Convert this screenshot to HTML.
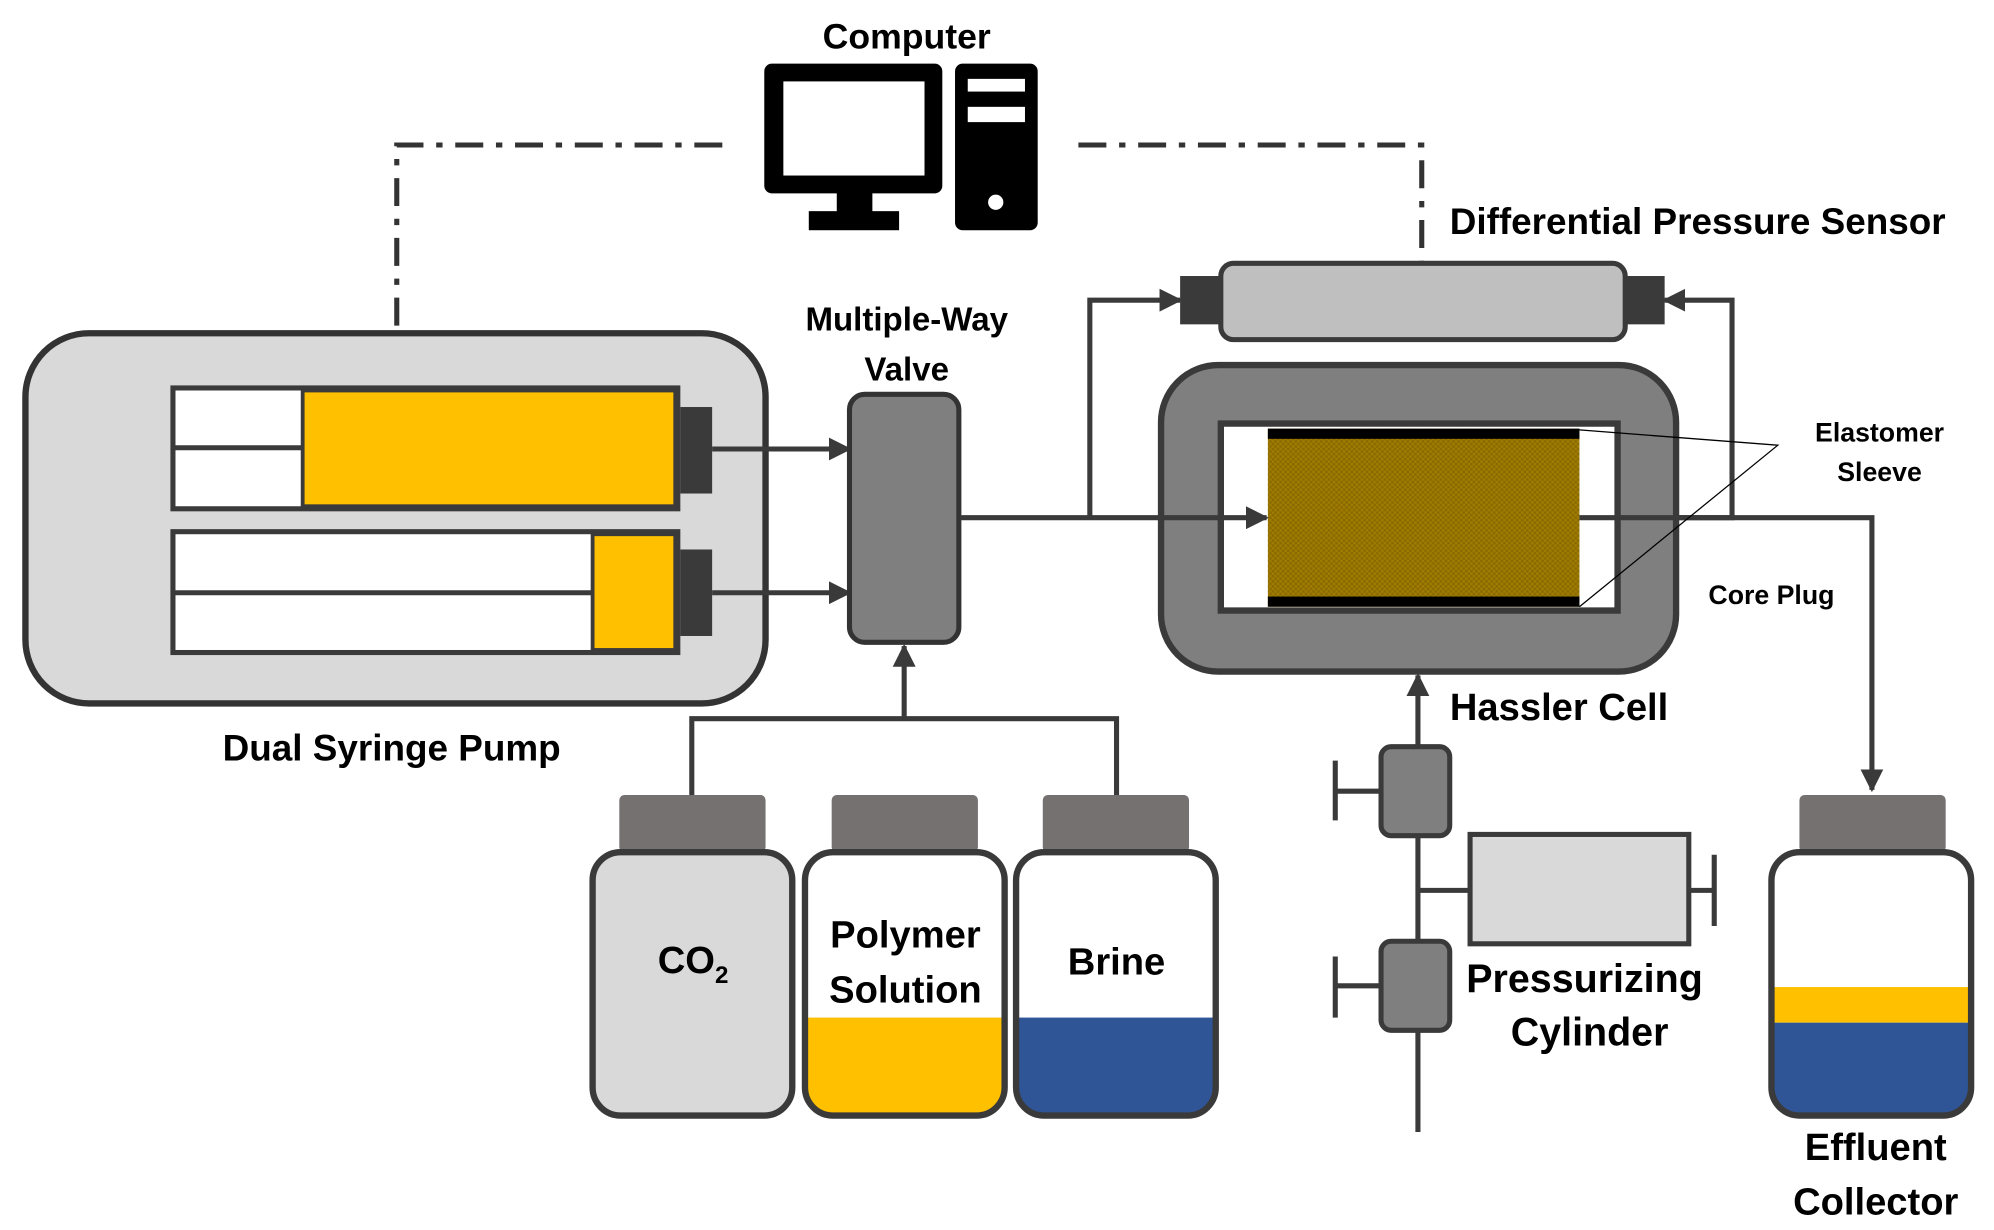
<!DOCTYPE html>
<html><head><meta charset="utf-8"><style>html,body{margin:0;padding:0;background:#fff}svg{display:block}</style></head>
<body>
<svg width="1994" height="1230" viewBox="0 0 1568 967" preserveAspectRatio="none" xmlns="http://www.w3.org/2000/svg" font-family="Liberation Sans, sans-serif" font-weight="bold">
<defs>
<marker id="a" viewBox="0 0 10 10" refX="9" refY="5" markerWidth="4.5" markerHeight="4.5" orient="auto"><path d="M0,0L10,5L0,10z" fill="#3a3a3a"/></marker>
<pattern id="p" width="4" height="4" patternUnits="userSpaceOnUse"><rect width="4" height="4" fill="#a07c00"/><rect width="2" height="2" fill="#8a6a00"/><rect x="2" y="2" width="2" height="2" fill="#8a6a00"/></pattern>
</defs>
<g fill="#000" font-size="28" text-anchor="middle">
<text x="713" y="38">Computer</text>
</g>
<rect x="601" y="50" width="140" height="102" rx="6" fill="#000"/>
<rect x="616" y="64" width="111" height="74" fill="#fff"/>
<rect x="658" y="150" width="28" height="18" fill="#000"/>
<rect x="636" y="166" width="71" height="15" fill="#000"/>
<rect x="751" y="50" width="65" height="131" rx="6" fill="#000"/>
<rect x="761" y="62" width="45" height="10" fill="#fff"/>
<rect x="761" y="84" width="45" height="12" fill="#fff"/>
<circle cx="783" cy="159" r="6" fill="#fff"/>
<g fill="none" stroke="#333" stroke-width="4" stroke-dasharray="22,10,5,10">
<path d="M568,114H312V260"/>
<path d="M848,114H1118V208"/>
</g>
<rect x="20" y="262" width="582" height="291" rx="50" fill="#d9d9d9" stroke="#333" stroke-width="5"/>
<rect x="136" y="305" width="397" height="95" fill="#fff" stroke="#3a3a3a" stroke-width="4"/>
<rect x="238" y="307" width="293" height="91" fill="#ffc000" stroke="#3a3a3a" stroke-width="3"/>
<line x1="138" y1="352" x2="238" y2="352" stroke="#3a3a3a" stroke-width="4"/>
<rect x="535" y="320" width="25" height="68" fill="#3a3a3a"/>
<rect x="136" y="418" width="397" height="95" fill="#fff" stroke="#3a3a3a" stroke-width="4"/>
<rect x="466" y="420" width="65" height="91" fill="#ffc000" stroke="#3a3a3a" stroke-width="3"/>
<line x1="138" y1="466" x2="466" y2="466" stroke="#3a3a3a" stroke-width="4"/>
<rect x="535" y="432" width="25" height="68" fill="#3a3a3a"/>
<g stroke="#3a3a3a" stroke-width="4" fill="none" marker-end="url(#a)">
<path d="M560,353H668"/>
<path d="M560,466H668"/>
<path d="M857,407V236H928"/>
<path d="M1242,407H1472V621"/>
<path d="M1362,407V236H1309"/>
<path d="M1115,890V531"/>
<path d="M544,625V565H878V625M711,565V508"/>
</g>
<rect x="668" y="310" width="86" height="195" rx="12" fill="#7f7f7f" stroke="#333" stroke-width="4"/>
<g font-size="26" text-anchor="middle" fill="#000">
<text x="713" y="260">Multiple-Way</text>
<text x="713" y="299">Valve</text>
</g>
<rect x="928" y="217" width="34" height="38" fill="#3a3a3a"/>
<rect x="1276" y="217" width="33" height="38" fill="#3a3a3a"/>
<rect x="960" y="207" width="318" height="60" rx="10" fill="#bfbfbf" stroke="#3a3a3a" stroke-width="4"/>
<text x="1140" y="184" font-size="29" fill="#000">Differential Pressure Sensor</text>
<rect x="913" y="287" width="405" height="241" rx="45" fill="#7f7f7f" stroke="#3a3a3a" stroke-width="5"/>
<rect x="960" y="333" width="312" height="147" fill="#fff" stroke="#3a3a3a" stroke-width="5"/>
<rect x="997" y="337" width="245" height="140" fill="url(#p)"/>
<rect x="997" y="337" width="245" height="8" fill="#000"/>
<rect x="997" y="469" width="245" height="8" fill="#000"/>
<path d="M755,407H996" stroke="#3a3a3a" stroke-width="4" fill="none" marker-end="url(#a)"/>
<line x1="1242" y1="407" x2="1364" y2="407" stroke="#3a3a3a" stroke-width="4"/>
<path d="M1242,338L1398,350L1242,477" fill="none" stroke="#000" stroke-width="1"/>
<g font-size="21" text-anchor="middle" fill="#000">
<text x="1478" y="347">Elastomer</text>
<text x="1478" y="378">Sleeve</text>
<text x="1393" y="475">Core Plug</text>
</g>
<text x="1226" y="566" font-size="30" text-anchor="middle">Hassler Cell</text>
<g stroke="#3a3a3a" stroke-width="4" fill="none">
<path d="M1086,622H1050M1050,598V645"/>
<path d="M1086,775H1050M1050,752V800"/>
<path d="M1115,700H1156"/>
<path d="M1328,700H1348M1348,672V728"/>
</g>
<rect x="1086" y="587" width="54" height="70" rx="8" fill="#7f7f7f" stroke="#3a3a3a" stroke-width="4"/>
<rect x="1086" y="740" width="54" height="70" rx="8" fill="#7f7f7f" stroke="#3a3a3a" stroke-width="4"/>
<rect x="1156" y="656" width="172" height="86" fill="#d9d9d9" stroke="#3a3a3a" stroke-width="4"/>
<g font-size="31" text-anchor="middle" fill="#000">
<text x="1246" y="780">Pressurizing</text>
<text x="1250" y="822">Cylinder</text>
<text x="308" y="598" font-size="29">Dual Syringe Pump</text>
</g>
<g fill="#767171">
<rect x="487" y="625" width="115" height="45" rx="4"/>
<rect x="654" y="625" width="115" height="45" rx="4"/>
<rect x="820" y="625" width="115" height="45" rx="4"/>
<rect x="1415" y="625" width="115" height="45" rx="4"/>
</g>
<rect x="466" y="670" width="157" height="207" rx="22" fill="#d9d9d9" stroke="#3a3a3a" stroke-width="5"/>
<clipPath id="c1"><rect x="633" y="670" width="157" height="207" rx="22"/></clipPath>
<clipPath id="c2"><rect x="799" y="670" width="157" height="207" rx="22"/></clipPath>
<clipPath id="c3"><rect x="1393" y="670" width="157" height="207" rx="22"/></clipPath>
<g clip-path="url(#c1)"><rect x="633" y="670" width="157" height="207" fill="#fff"/><rect x="633" y="800" width="157" height="80" fill="#ffc000"/></g>
<rect x="633" y="670" width="157" height="207" rx="22" fill="none" stroke="#3a3a3a" stroke-width="5"/>
<g clip-path="url(#c2)"><rect x="799" y="670" width="157" height="207" fill="#fff"/><rect x="799" y="800" width="157" height="80" fill="#2f5597"/></g>
<rect x="799" y="670" width="157" height="207" rx="22" fill="none" stroke="#3a3a3a" stroke-width="5"/>
<g clip-path="url(#c3)"><rect x="1393" y="670" width="157" height="207" fill="#fff"/><rect x="1393" y="776" width="157" height="28" fill="#ffc000"/><rect x="1393" y="804" width="157" height="80" fill="#2f5597"/></g>
<rect x="1393" y="670" width="157" height="207" rx="22" fill="none" stroke="#3a3a3a" stroke-width="5"/>
<g font-size="30" text-anchor="middle" fill="#000">
<text x="545" y="765">CO<tspan font-size="19" dy="8">2</tspan></text>
<text x="712" y="745">Polymer</text>
<text x="712" y="788">Solution</text>
<text x="878" y="766">Brine</text>
<text x="1475" y="912">Effluent</text>
<text x="1475" y="955">Collector</text>
</g>
</svg>
</body></html>
